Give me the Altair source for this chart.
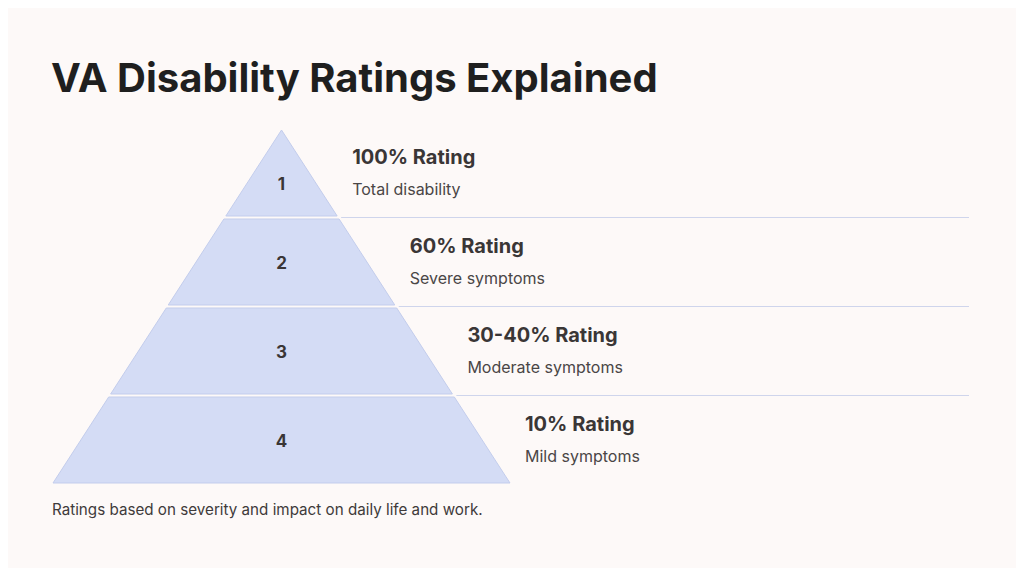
import altair as alt
import pandas as pd

# ---- content ----
levels = [1, 2, 3, 4]
ratings = ["100% Rating", "60% Rating", "30-40% Rating", "10% Rating"]
descriptions = ["Total disability", "Severe symptoms", "Moderate symptoms", "Mild symptoms"]
title_text = ["VA Disability Ratings Explained"]
footer_text = ["Ratings based on severity and impact on daily life and work."]

# ---- layout (page pixel space) ----
W, H = 1008, 560
APEX_X, APEX_Y, BASE_Y, BASE_HALF = 281.5, 130.0, 483.0, 228.5
GAP = 3.0
LINE_END = 969
LABEL_DX = 15
TITLE_X, TITLE_Y = 51, 80
FOOTER_X, FOOTER_Y = 52, 510

slope = BASE_HALF / (BASE_Y - APEX_Y)
level_h = (BASE_Y - APEX_Y + GAP) / len(levels)


def half(yy):
    return (yy - APEX_Y) * slope


poly, labs, seps = [], [], []
for i, lv in enumerate(levels):
    top = APEX_Y + i * level_h
    bot = top + level_h - GAP
    for yy in (top, bot):
        poly.append(dict(level=lv, y=yy, x=APEX_X - half(yy), x2=APEX_X + half(yy)))
    num_y = top + (bot - top) * (0.62 if i == 0 else 0.5)
    labs.append(dict(level=str(lv), nx=APEX_X, ny=num_y,
                     lx=APEX_X + half(bot) + LABEL_DX,
                     ry=top + 28, dy=top + 60,
                     rating=ratings[i], desc=descriptions[i]))
    if i < len(levels) - 1:
        sy = bot + GAP / 2
        seps.append(dict(y=sy, x=APEX_X + half(sy) + 3, x2=LINE_END))

poly_df = pd.DataFrame(poly)
lab_df = pd.DataFrame(labs)
sep_df = pd.DataFrame(seps)
title_df = pd.DataFrame(dict(t=title_text, x=[TITLE_X], y=[TITLE_Y]))
foot_df = pd.DataFrame(dict(t=footer_text, x=[FOOTER_X], y=[FOOTER_Y]))

xs = alt.Scale(domain=[8, 8 + W], nice=False, zero=False)
ys = alt.Scale(domain=[8, 8 + H], nice=False, zero=False, reverse=True)

FONT = "Inter"

pyr = alt.Chart(poly_df).mark_area(
    orient="horizontal", fill="#D4DCF5", stroke="#C3CDEC", strokeWidth=1
).encode(
    y=alt.Y("y:Q", scale=ys, axis=None),
    x=alt.X("x:Q", scale=xs, axis=None),
    x2="x2:Q",
    detail="level:N",
)

sep = alt.Chart(sep_df).mark_rule(color="#CFD5EC", strokeWidth=1).encode(
    x=alt.X("x:Q", scale=xs, axis=None), x2="x2:Q",
    y=alt.Y("y:Q", scale=ys, axis=None),
)

nums = alt.Chart(lab_df).mark_text(
    font=FONT, fontSize=17, fontWeight="bold", color="#3A3636", align="center",
    baseline="middle", dy=2
).encode(
    x=alt.X("nx:Q", scale=xs, axis=None), y=alt.Y("ny:Q", scale=ys, axis=None), text="level:N"
)

rat = alt.Chart(lab_df).mark_text(
    font=FONT, fontSize=20, fontWeight="bold", color="#3A3636", align="left", baseline="middle"
).encode(
    x=alt.X("lx:Q", scale=xs, axis=None), y=alt.Y("ry:Q", scale=ys, axis=None), text="rating:N"
)

des = alt.Chart(lab_df).mark_text(
    font=FONT, fontSize=16, color="#4A4646", align="left", baseline="middle"
).encode(
    x=alt.X("lx:Q", scale=xs, axis=None), y=alt.Y("dy:Q", scale=ys, axis=None), text="desc:N"
)

ttl = alt.Chart(title_df).mark_text(
    font=FONT, fontSize=40, fontWeight="bold", color="#1F1F1F", align="left", baseline="middle"
).encode(
    x=alt.X("x:Q", scale=xs, axis=None), y=alt.Y("y:Q", scale=ys, axis=None), text="t:N"
)

ftr = alt.Chart(foot_df).mark_text(
    font=FONT, fontSize=15.2, color="#3F3B3B", align="left", baseline="middle"
).encode(
    x=alt.X("x:Q", scale=xs, axis=None), y=alt.Y("y:Q", scale=ys, axis=None), text="t:N"
)

chart = alt.layer(pyr, sep, nums, rat, des, ttl, ftr).properties(
    width=W, height=H, padding=0, autosize="none", background="#FDF9F8"
).configure_view(stroke=None)

chart.save("out.html", embed_options={"renderer": "svg", "actions": False})
